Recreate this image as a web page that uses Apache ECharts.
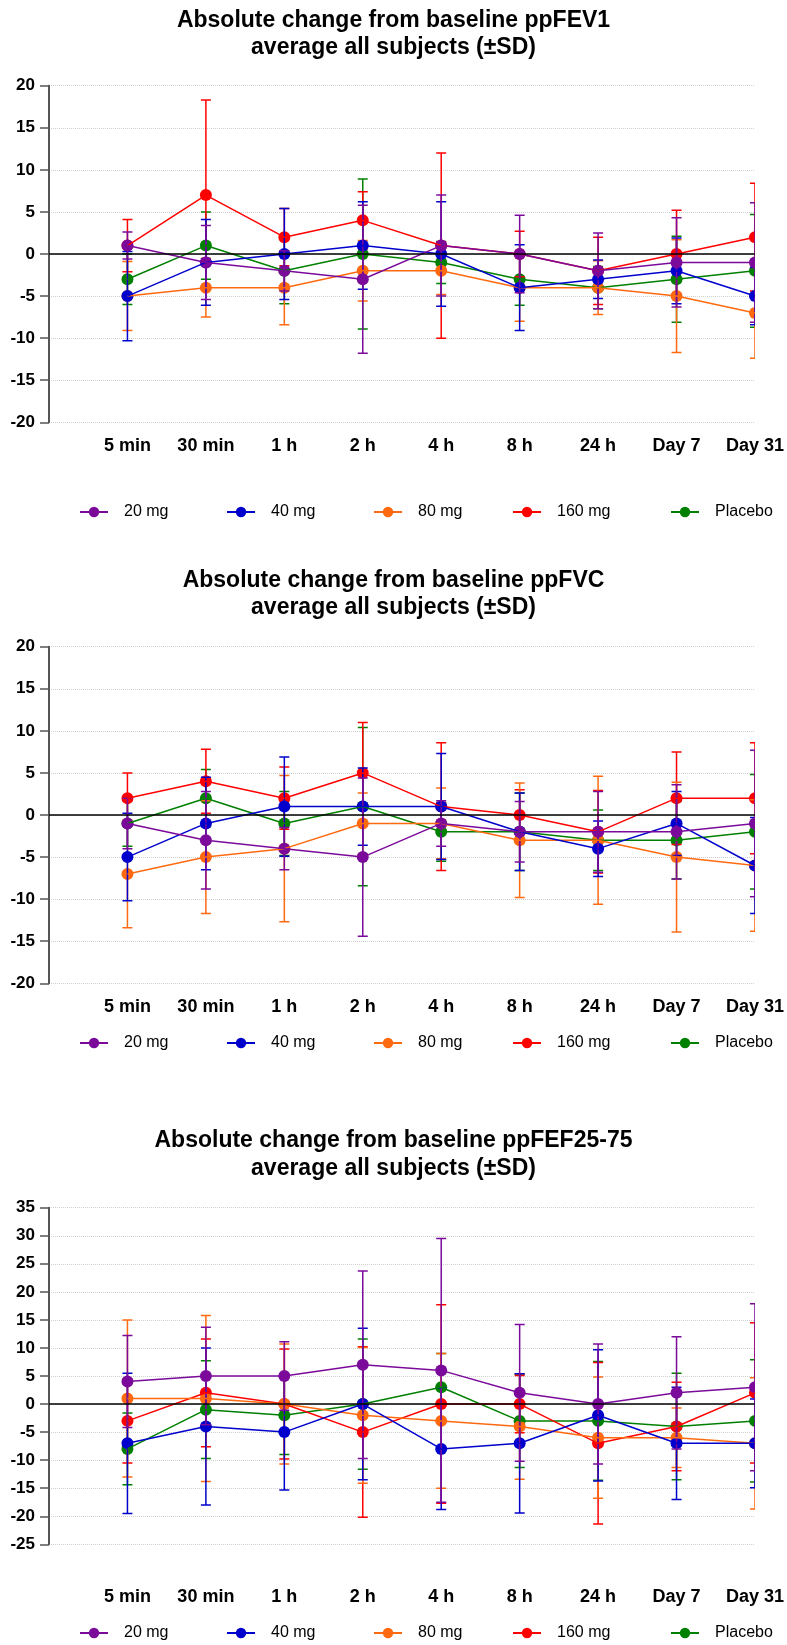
<!DOCTYPE html>
<html>
<head>
<meta charset="utf-8">
<script src="https://cdn.jsdelivr.net/npm/echarts@6/dist/echarts.min.js"></script>
<style>
html, body { margin: 0; padding: 0; background: #fff; }
#main { width: 787px; height: 1645px; }
</style>
</head>
<body>
<div id="main"></div>
<script>
// time points and dose groups
var categories = ['5 min', '30 min', '1 h', '2 h', '4 h', '8 h', '24 h', 'Day 7', 'Day 31'];
var groups = ['20 mg', '40 mg', '80 mg', '160 mg', 'Placebo'];
var groupColors = ['#7b0a9b', '#0000cc', '#ff6a10', '#ff0000', '#008000'];

// ppFEV1: mean change and SD
var fev1Mean20 = [1, -1, -2, -3, 1, 0, -2, -1, -1];
var fev1Sd20 = [1.6, 4.4, 2.4, 8.8, 6.0, 4.6, 4.5, 5.3, 7.1];
var fev1Mean40 = [-5, -1, 0, 1, 0, -4, -3, -2, -5];
var fev1Sd40 = [5.3, 5.1, 5.4, 5.2, 6.2, 5.1, 2.3, 3.9, 3.4];
var fev1Mean80 = [-5, -4, -4, -2, -2, -4, -4, -5, -7];
var fev1Sd80 = [4.1, 3.5, 4.4, 3.6, 2.8, 4.0, 3.2, 6.7, 5.4];
var fev1Mean160 = [1, 7, 2, 4, 1, 0, -2, 0, 2];
var fev1Sd160 = [3.1, 11.3, 3.4, 3.4, 11.0, 2.7, 4.0, 5.2, 6.4];
var fev1MeanPlacebo = [-3, 1, -2, 0, -1, -3, -4, -3, -2];
var fev1SdPlacebo = [3.0, 4.0, 3.9, 8.9, 2.5, 3.1, 2.5, 5.1, 6.7];

// ppFVC: mean change and SD
var fvcMean20 = [-1, -3, -4, -5, -1, -2, -2, -2, -1];
var fvcSd20 = [3.0, 5.8, 2.5, 9.4, 2.7, 3.6, 4.8, 5.6, 8.7];
var fvcMean40 = [-5, -1, 1, 1, 1, -2, -4, -1, -6];
var fvcSd40 = [5.2, 5.5, 5.9, 4.6, 6.3, 4.6, 3.3, 3.8, 5.7];
var fvcMean80 = [-7, -5, -4, -1, -1, -3, -3, -5, -6];
var fvcSd80 = [6.4, 6.7, 8.7, 3.6, 4.2, 6.8, 7.6, 8.9, 7.8];
var fvcMean160 = [2, 4, 2, 5, 1, 0, -2, 2, 2];
var fvcSd160 = [3.0, 3.8, 3.7, 6.0, 7.6, 3.0, 4.9, 5.5, 6.6];
var fvcMeanPlacebo = [-1, 2, -1, 1, -2, -2, -3, -3, -2];
var fvcSdPlacebo = [2.7, 3.4, 3.8, 9.4, 3.5, 4.6, 3.6, 4.6, 6.8];

// ppFEF25-75: mean change and SD
var fefMean20 = [4, 5, 5, 7, 6, 2, 0, 2, 3];
var fefSd20 = [8.2, 8.7, 6.1, 16.7, 23.5, 12.2, 10.7, 10.0, 14.9];
var fefMean40 = [-7, -4, -5, 0, -8, -7, -2, -7, -7];
var fefSd40 = [12.5, 14.0, 10.3, 13.5, 10.8, 12.4, 11.7, 10.0, 7.9];
var fefMean80 = [1, 1, 0, -2, -3, -4, -6, -6, -7];
var fefSd80 = [14.0, 14.8, 10.7, 12.1, 12.0, 9.4, 10.8, 5.3, 11.7];
var fefMean160 = [-3, 2, 0, -5, 0, 0, -7, -4, 2];
var fefSd160 = [7.5, 9.6, 9.8, 15.2, 17.7, 5.1, 14.4, 7.9, 12.5];
var fefMeanPlacebo = [-8, -1, -2, 0, 3, -3, -3, -4, -3];
var fefSdPlacebo = [6.4, 8.7, 7.0, 11.6, 6.0, 8.3, 10.6, 9.5, 10.9];

var FONT = "'Liberation Sans', Arial, Helvetica, sans-serif";
var legendLefts = [79, 226, 373, 512, 670];

var charts = [
    {
        title: 'Absolute change from baseline ppFEV1\naverage all subjects (±SD)',
        titleTop: 6.5, gridTop: 85.7, yMin: -20, yMax: 20, labelMargin: 15, legendTop: 504,
        means: [fev1Mean20, fev1Mean40, fev1Mean80, fev1Mean160, fev1MeanPlacebo],
        sds: [fev1Sd20, fev1Sd40, fev1Sd80, fev1Sd160, fev1SdPlacebo]
    },
    {
        title: 'Absolute change from baseline ppFVC\naverage all subjects (±SD)',
        titleTop: 566.5, gridTop: 646.7, yMin: -20, yMax: 20, labelMargin: 15, legendTop: 1035,
        means: [fvcMean20, fvcMean40, fvcMean80, fvcMean160, fvcMeanPlacebo],
        sds: [fvcSd20, fvcSd40, fvcSd80, fvcSd160, fvcSdPlacebo]
    },
    {
        title: 'Absolute change from baseline ppFEF25-75\naverage all subjects (±SD)',
        titleTop: 1127, gridTop: 1207.7, yMin: -25, yMax: 35, labelMargin: 44, legendTop: 1625,
        means: [fefMean20, fefMean40, fefMean80, fefMean160, fefMeanPlacebo],
        sds: [fefSd20, fefSd40, fefSd80, fefSd160, fefSdPlacebo]
    }
];

// error bar with caps plus the dot, clipped to the grid
function renderErrorBar(params, api) {
    var x = api.value(0), m = api.value(1), s = api.value(2);
    var c = api.coord([x, m]);
    var hi = api.coord([x, m + s]);
    var lo = api.coord([x, m - s]);
    var col = api.visual('color');
    var st = { stroke: col, lineWidth: 1.5 };
    return {
        type: 'group',
        children: [
            { type: 'line', shape: { x1: c[0], y1: hi[1], x2: c[0], y2: lo[1] }, style: st },
            { type: 'line', shape: { x1: c[0] - 5, y1: hi[1], x2: c[0] + 5, y2: hi[1] }, style: st },
            { type: 'line', shape: { x1: c[0] - 5, y1: lo[1], x2: c[0] + 5, y2: lo[1] }, style: st },
            { type: 'circle', shape: { cx: c[0], cy: c[1], r: 6 }, style: { fill: col } }
        ]
    };
}

var option = {
    animation: false,
    backgroundColor: '#fff',
    title: [], grid: [], xAxis: [], yAxis: [], legend: [], series: []
};

charts.forEach(function (c, i) {
    // left padding shifts the centred title over the plot area
    option.title.push({
        text: c.title,
        left: 'center',
        top: c.titleTop,
        padding: [0, 0, 0, 18],
        textStyle: { fontFamily: FONT, fontSize: 23, fontWeight: 'bold', color: '#000', lineHeight: 27.5 }
    });
    option.grid.push({ left: 49, top: c.gridTop, width: 707, height: 336.6 });
    option.xAxis.push({
        gridIndex: i,
        type: 'value',
        min: 0, max: 9, interval: 1,
        axisLine: { show: false },
        axisTick: { show: false },
        splitLine: { show: false },
        axisLabel: {
            margin: c.labelMargin,
            showMinLabel: true, showMaxLabel: true,
            fontFamily: FONT, fontSize: 18, fontWeight: 'bold', color: '#000',
            formatter: function (v) { return v >= 1 ? categories[v - 1] : ''; }
        }
    });
    option.yAxis.push({
        gridIndex: i,
        type: 'value',
        min: c.yMin, max: c.yMax, interval: 5,
        axisLine: { show: true, lineStyle: { color: '#555', width: 2 } },
        axisTick: { show: true, length: 9, lineStyle: { color: '#555', width: 1.5 } },
        axisLabel: { margin: 14, fontFamily: FONT, fontSize: 17, fontWeight: 'bold', color: '#000' },
        splitLine: { show: true, lineStyle: { color: '#d0d0d0', type: 'dotted', width: 1 } }
    });

    groups.forEach(function (g, k) {
        option.legend.push({
            left: legendLefts[k],
            top: c.legendTop,
            padding: 0,
            data: [g],
            selectedMode: false,
            itemWidth: 28,
            itemHeight: 13,
            textStyle: { fontFamily: FONT, fontSize: 16, color: '#000', padding: [0, 0, 0, 11] }
        });
    });

    // placebo drawn first, 20 mg on top
    [4, 3, 2, 1, 0].forEach(function (k, n) {
        var col = groupColors[k];
        var line = {
            type: 'line',
            name: groups[k],
            xAxisIndex: i, yAxisIndex: i,
            data: c.means[k].map(function (v, j) { return [j + 1, v]; }),
            symbol: 'circle',
            showSymbol: false,
            color: col,
            lineStyle: { color: col, width: 1.5 },
            itemStyle: { color: col }
        };
        if (n === 0) {
            line.markLine = {
                silent: true,
                symbol: ['none', 'none'],
                label: { show: false },
                lineStyle: { color: '#000', width: 1.5, type: 'solid' },
                data: [{ yAxis: 0 }]
            };
        }
        option.series.push(line);
        option.series.push({
            type: 'custom',
            name: groups[k],
            xAxisIndex: i, yAxisIndex: i,
            color: col,
            itemStyle: { color: col },
            clip: true,
            encode: { x: 0, y: 1 },
            data: c.means[k].map(function (v, j) { return [j + 1, v, c.sds[k][j]]; }),
            renderItem: renderErrorBar
        });
    });
});

var chart = echarts.init(document.getElementById('main'));
chart.setOption(option);
</script>
</body>
</html>
